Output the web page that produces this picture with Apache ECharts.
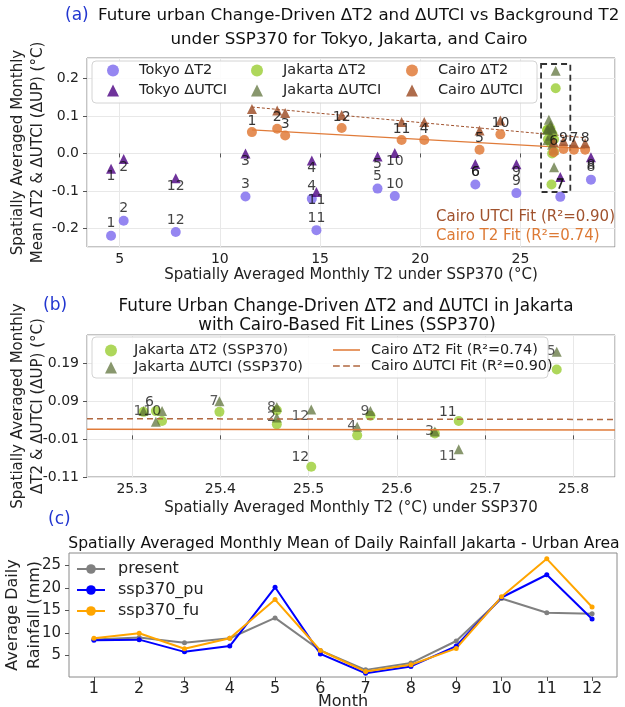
<!DOCTYPE html>
<html>
<head>
<meta charset="utf-8">
<script src="https://cdn.jsdelivr.net/npm/echarts@6/dist/echarts.min.js"></script>
<style>
html, body { margin: 0; padding: 0; background: #fff; }
#chart { width: 625px; height: 707px; }
</style>
</head>
<body>
<div id="chart"></div>
<script>
// months 1..12
var months = [1, 2, 3, 4, 5, 6, 7, 8, 9, 10, 11, 12];

// (a) background T2 (x) and delta values (y) per month
var tokyoBgT2   = [4.57, 5.2, 11.28, 14.59, 17.87, 22.75, 26.99, 28.52, 24.8, 18.73, 14.82, 7.8];
var tokyoDT2    = [-0.22, -0.18, -0.115, -0.121, -0.094, -0.083, -0.116, -0.07, -0.106, -0.114, -0.205, -0.21];
var tokyoDUTCI  = [-0.041, -0.015, 0.0, -0.019, -0.008, -0.028, -0.063, -0.01, -0.029, 0.001, -0.103, -0.066];

var jakartaBgT2A = [26.33, 26.5, 26.67, 26.58, 26.76, 26.35, 26.42, 26.5, 26.6, 26.37, 26.68, 26.55];
var jakartaDT2   = [0.062, 0.029, 0.005, 0.0, 0.174, 0.064, 0.062, 0.066, 0.052, 0.038, 0.038, -0.083];
var jakartaDUTCI = [0.064, 0.047, 0.01, 0.023, 0.221, 0.036, 0.09, 0.075, 0.064, 0.064, -0.037, 0.068];

var cairoBgT2  = [11.6, 12.86, 13.26, 20.2, 22.96, 26.66, 27.67, 28.23, 27.15, 24.0, 19.07, 16.08];
var cairoDT2   = [0.057, 0.066, 0.048, 0.036, 0.01, 0.003, 0.01, 0.01, 0.012, 0.051, 0.036, 0.068];
var cairoDUTCI = [0.119, 0.115, 0.108, 0.084, 0.061, 0.03, 0.028, 0.027, 0.033, 0.088, 0.084, 0.103];

// Cairo fit lines (end points) and the dashed highlight box around Jakarta
var cairoT2FitA   = [[11.6, 0.063], [28.23, 0.013]];
var cairoUtciFitA = [[11.6, 0.124], [28.23, 0.042]];
var jakartaBoxA   = [[26.03, 0.239], [27.49, -0.103]];

// (b) Jakarta background T2 and Cairo fits evaluated there
var jakartaBgT2B  = [25.313, 25.464, 25.643, 25.555, 25.781, 25.327, 25.399, 25.464, 25.570, 25.334, 25.670, 25.503];
var cairoT2FitB   = [[25.249, 0.016], [25.847, 0.014]];
var cairoUtciFitB = [[25.249, 0.044], [25.847, 0.042]];

// (c) monthly mean daily rainfall (mm)
var rainPresent = [8.5, 8.94, 7.8, 8.79, 13.33, 6.06, 1.74, 3.26, 8.18, 17.65, 14.47, 14.24];
var rainPu      = [8.33, 8.48, 5.76, 7.05, 20.15, 5.3, 0.98, 2.5, 7.05, 17.88, 22.95, 13.1];
var rainFu      = [8.79, 9.92, 6.44, 8.79, 17.42, 6.06, 1.36, 2.88, 6.52, 18.03, 26.5, 15.76];

var FONT = 'DejaVu Sans';
var GRIDLINE = '#e8e8e8';
var FRAME = '#8a8a8a';
var LINE_SOLID  = 'path://M0,0H28V1.6H0Z';
var LINE_DASHED = 'path://M0,0H7V1.6H0Z M10.5,0H17.5V1.6H10.5Z M21,0H28V1.6H21Z';

function monthLabel(p) { return p.value[2]; }

function pts(xs, ys) {
    return months.map(function (m, i) { return [xs[i], ys[i], m]; });
}

// panel (b): one label (on the upper mark) when the two marks of a month sit close, else one each
function ptsB(which) {
    return months.map(function (m, i) {
        var t2 = jakartaDT2[i], ut = jakartaDUTCI[i];
        var close = Math.abs(t2 - ut) < 0.05;
        var mine = which === 't2' ? t2 : ut;
        var lab;
        if (close) {
            var upperIsT2 = t2 > ut;
            var showIt = (which === 't2') === upperIsT2;
            lab = { show: showIt, offset: upperIsT2 ? [-2, -9] : [-1, 0] };
        } else {
            lab = { show: true, offset: which === 't2' ? [-2, -9] : [-2, 7] };
        }
        return { value: [jakartaBgT2B[i], mine, m], label: lab };
    });
}

var labBase = { show: true, position: 'inside', color: '#111', fontSize: 14, fontFamily: FONT, formatter: monthLabel };
function lab(extra) { var o = {}; for (var k in labBase) o[k] = labBase[k]; for (var j in extra) o[j] = extra[j]; return o; }

function axisCommon(extra) {
    var o = {
        axisLine: { show: false },
        axisTick: { show: true, length: 4, lineStyle: { color: '#555' } },
        axisLabel: { color: '#222', fontSize: 14, fontFamily: FONT, margin: 5, showMinLabel: false, showMaxLabel: false, hideOverlap: false },
        splitLine: { show: true, lineStyle: { color: GRIDLINE, width: 1 } },
        nameMoveOverlap: false,
        nameTextStyle: { color: '#222', fontSize: 15, fontFamily: FONT, lineHeight: 20 }
    };
    for (var k in extra) o[k] = extra[k];
    return o;
}

var chart = echarts.init(document.getElementById('chart'), null, { renderer: 'canvas' });

var legendText = { fontSize: 14.5, fontFamily: FONT, color: '#222', padding: [0, 0, 0, 15] };

var option = {
    backgroundColor: '#fff',
    animation: false,
    textStyle: { fontFamily: FONT },
    grid: [
        { left: 87, top: 58, width: 528, height: 189, show: true, borderColor: FRAME, borderWidth: 1, backgroundColor: 'transparent', containLabel: false, outerBoundsMode: 'none' },
        { left: 87, top: 335, width: 528, height: 142, show: true, borderColor: FRAME, borderWidth: 1, backgroundColor: 'transparent', containLabel: false, outerBoundsMode: 'none' },
        { left: 69, top: 553, width: 548, height: 124, show: true, borderColor: FRAME, borderWidth: 1, backgroundColor: 'transparent', containLabel: false, outerBoundsMode: 'none' }
    ],
    xAxis: [
        axisCommon({ type: 'value', gridIndex: 0, min: 3.37, max: 29.72, splitNumber: 5,
            name: 'Spatially Averaged Monthly T2 under SSP370 (°C)', nameLocation: 'middle', nameGap: 18 }),
        axisCommon({ type: 'value', gridIndex: 1, min: 25.249, max: 25.847, splitNumber: 6,
            name: 'Spatially Averaged Monthly T2 (°C) under SSP370', nameLocation: 'middle', nameGap: 21 }),
        axisCommon({ type: 'value', gridIndex: 2, min: 0.45, max: 12.55, splitNumber: 12,
            splitLine: { show: false },
            name: 'Month', nameLocation: 'middle', nameGap: 17,
            axisLabel: { color: '#222', fontSize: 16, fontFamily: FONT, margin: 4, showMinLabel: false, showMaxLabel: false, hideOverlap: false },
            nameTextStyle: { color: '#222', fontSize: 16, fontFamily: FONT } })
    ],
    yAxis: [
        axisCommon({ type: 'value', gridIndex: 0, min: -0.25, max: 0.255, splitNumber: 5,
            axisLabel: { color: '#222', fontSize: 14, fontFamily: FONT, showMinLabel: false, showMaxLabel: false,
                formatter: function (v) { return v.toFixed(1); } },
            name: 'Spatially Averaged Monthly\nMean ΔT2 & ΔUTCI (ΔUP) (°C)', nameLocation: 'middle', nameGap: 39, nameRotate: 90 }),
        axisCommon({ type: 'value', gridIndex: 1, min: -0.11, max: 0.265, interval: 0.1,
            axisLabel: { color: '#222', fontSize: 14, fontFamily: FONT, showMinLabel: true, showMaxLabel: false,
                formatter: function (v) { return v.toFixed(2); } },
            name: 'Spatially Averaged Monthly\nΔT2 & ΔUTCI (ΔUP) (°C)', nameLocation: 'middle', nameGap: 39, nameRotate: 90 }),
        axisCommon({ type: 'value', gridIndex: 2, min: 0.15, max: 27.8, splitNumber: 5,
            splitLine: { show: false },
            axisLabel: { color: '#222', fontSize: 15, fontFamily: FONT, showMinLabel: false, showMaxLabel: false },
            name: 'Average Daily\nRainfall (mm)', nameLocation: 'middle', nameGap: 23, nameRotate: 90,
            nameTextStyle: { color: '#222', fontSize: 16, fontFamily: FONT, lineHeight: 22 } })
    ],
    legend: [
        { orient: 'vertical', left: 102, top: 58, itemWidth: 12, itemHeight: 12, itemGap: 5, textStyle: legendText,
          data: [{ name: 'Tokyo ΔT2', icon: 'circle' }, { name: 'Tokyo ΔUTCI', icon: 'triangle' }] },
        { orient: 'vertical', left: 246, top: 58, itemWidth: 12, itemHeight: 12, itemGap: 5, textStyle: legendText,
          data: [{ name: 'Jakarta ΔT2', icon: 'circle' }, { name: 'Jakarta ΔUTCI', icon: 'triangle' }] },
        { orient: 'vertical', left: 401, top: 58, itemWidth: 12, itemHeight: 12, itemGap: 5, textStyle: legendText,
          data: [{ name: 'Cairo ΔT2', icon: 'circle' }, { name: 'Cairo ΔUTCI', icon: 'triangle' }] },
        { orient: 'vertical', left: 100, top: 338, itemWidth: 12, itemHeight: 12, itemGap: 2,
          textStyle: { fontSize: 14.5, fontFamily: FONT, color: '#222', padding: [0, 0, 0, 12] },
          data: [{ name: 'Jakarta ΔT2 (SSP370)', icon: 'circle' }, { name: 'Jakarta ΔUTCI (SSP370)', icon: 'triangle' }] },
        { orient: 'vertical', left: 328, top: 338, itemWidth: 27, itemHeight: 12, itemGap: 2,
          textStyle: { fontSize: 14.4, fontFamily: FONT, color: '#222', padding: [0, 0, 0, 6] },
          data: [{ name: 'Cairo ΔT2 Fit (R²=0.74)', icon: LINE_SOLID }, { name: 'Cairo ΔUTCI Fit (R²=0.90)', icon: LINE_DASHED }] },
        { orient: 'vertical', left: 71, top: 556, itemWidth: 28, itemHeight: 12, itemGap: 5,
          textStyle: { fontSize: 16, fontFamily: FONT, color: '#222', padding: [0, 0, 0, 8] },
          data: ['present', 'ssp370_pu', 'ssp370_fu'] }
    ],
    graphic: [
        { type: 'rect', z: 3, shape: { x: 92, y: 61, width: 445, height: 42, r: 4 },
          style: { fill: 'rgba(255,255,255,0.85)', stroke: '#d4d4d4', lineWidth: 1 } },
        { type: 'rect', z: 3, shape: { x: 92, y: 337, width: 456, height: 41, r: 4 },
          style: { fill: 'rgba(255,255,255,0.85)', stroke: '#d4d4d4', lineWidth: 1 } },
        { type: 'text', left: 65, top: 7, style: { text: '(a)', fill: '#2236d0', font: '17px "DejaVu Sans"' } },
        { type: 'text', left: 98, top: 7, style: { text: 'Future urban Change-Driven ΔT2 and ΔUTCI vs Background T2', fill: '#111', font: '16.7px "DejaVu Sans"' } },
        { type: 'text', x: 349, y: 40, style: { text: 'under SSP370 for Tokyo, Jakarta, and Cairo', fill: '#111', font: '16.7px "DejaVu Sans"', align: 'center', verticalAlign: 'middle' } },
        { type: 'text', left: 436, top: 210, z: 5, style: { text: 'Cairo UTCI Fit (R²=0.90)', fill: '#a0522d', font: '15px "DejaVu Sans"' } },
        { type: 'text', left: 436, top: 229, z: 5, style: { text: 'Cairo T2 Fit (R²=0.74)', fill: '#dd7a35', font: '15px "DejaVu Sans"' } },
        { type: 'text', left: 43, top: 297, style: { text: '(b)', fill: '#2236d0', font: '17px "DejaVu Sans"' } },
        { type: 'text', x: 346, y: 307, style: { text: 'Future Urban Change-Driven ΔT2 and ΔUTCI in Jakarta', fill: '#111', font: '16.8px "DejaVu Sans"', align: 'center', verticalAlign: 'middle' } },
        { type: 'text', x: 347, y: 326, style: { text: 'with Cairo-Based Fit Lines (SSP370)', fill: '#111', font: '16.8px "DejaVu Sans"', align: 'center', verticalAlign: 'middle' } },
        { type: 'text', left: 48, top: 511, style: { text: '(c)', fill: '#2236d0', font: '17px "DejaVu Sans"' } },
        { type: 'text', x: 344, y: 544, style: { text: 'Spatially Averaged Monthly Mean of Daily Rainfall Jakarta - Urban Area', fill: '#111', font: '15.6px "DejaVu Sans"', align: 'center', verticalAlign: 'middle' } }
    ],
    series: [
        // (a)
        { name: 'Cairo ΔT2 Fit A', type: 'line', xAxisIndex: 0, yAxisIndex: 0, data: cairoT2FitA, symbol: 'none', silent: true,
          lineStyle: { color: '#e07b39', width: 1.2 }, z: 1 },
        { name: 'Cairo ΔUTCI Fit A', type: 'line', xAxisIndex: 0, yAxisIndex: 0, data: cairoUtciFitA, symbol: 'none', silent: true,
          lineStyle: { color: '#a0522d', width: 1, type: [3, 2] }, z: 1 },
        { name: 'Tokyo ΔT2', type: 'scatter', xAxisIndex: 0, yAxisIndex: 0, data: pts(tokyoBgT2, tokyoDT2), symbol: 'circle', symbolSize: 10,
          itemStyle: { color: '#7b68ee', opacity: 0.8 }, label: lab({ offset: [0, -12] }) },
        { name: 'Tokyo ΔUTCI', type: 'scatter', xAxisIndex: 0, yAxisIndex: 0, data: pts(tokyoBgT2, tokyoDUTCI), symbol: 'triangle', symbolSize: 10,
          itemStyle: { color: '#4b0082', opacity: 0.8 }, label: lab({ offset: [0, 8] }) },
        { name: 'Jakarta ΔT2', type: 'scatter', xAxisIndex: 0, yAxisIndex: 0, data: pts(jakartaBgT2A, jakartaDT2), symbol: 'circle', symbolSize: 10,
          itemStyle: { color: '#9acd32', opacity: 0.8 } },
        { name: 'Jakarta ΔUTCI', type: 'scatter', xAxisIndex: 0, yAxisIndex: 0, data: pts(jakartaBgT2A, jakartaDUTCI), symbol: 'triangle', symbolSize: 10,
          itemStyle: { color: '#556b2f', opacity: 0.7 } },
        { name: 'Cairo ΔT2', type: 'scatter', xAxisIndex: 0, yAxisIndex: 0, data: pts(cairoBgT2, cairoDT2), symbol: 'circle', symbolSize: 10,
          itemStyle: { color: '#e07b39', opacity: 0.85 }, label: lab({ offset: [0, -11] }) },
        { name: 'Cairo ΔUTCI', type: 'scatter', xAxisIndex: 0, yAxisIndex: 0, data: pts(cairoBgT2, cairoDUTCI), symbol: 'triangle', symbolSize: 10,
          itemStyle: { color: '#a0522d', opacity: 0.85 },
          markArea: { silent: true, itemStyle: { color: 'rgba(0,0,0,0)', borderColor: '#333', borderWidth: 1.8, borderType: [6, 4] },
                      data: [[{ coord: jakartaBoxA[0] }, { coord: jakartaBoxA[1] }]] } },
        // (b)
        { name: 'Cairo ΔT2 Fit (R²=0.74)', type: 'line', xAxisIndex: 1, yAxisIndex: 1, data: cairoT2FitB, symbol: 'none', silent: true,
          lineStyle: { color: '#e07b39', width: 1.5 }, itemStyle: { color: '#e07b39' } },
        { name: 'Cairo ΔUTCI Fit (R²=0.90)', type: 'line', xAxisIndex: 1, yAxisIndex: 1, data: cairoUtciFitB, symbol: 'none', silent: true,
          lineStyle: { color: '#b0673f', width: 1.5, type: [6, 4] }, itemStyle: { color: '#b0673f' } },
        { name: 'Jakarta ΔT2 (SSP370)', type: 'scatter', xAxisIndex: 1, yAxisIndex: 1, data: ptsB('t2'), symbol: 'circle', symbolSize: 10,
          itemStyle: { color: '#9acd32', opacity: 0.8 }, label: lab({ align: 'right' }) },
        { name: 'Jakarta ΔUTCI (SSP370)', type: 'scatter', xAxisIndex: 1, yAxisIndex: 1, data: ptsB('ut'), symbol: 'triangle', symbolSize: 10,
          itemStyle: { color: '#556b2f', opacity: 0.7 }, label: lab({ align: 'right' }) },
        // (c)
        { name: 'present', type: 'line', xAxisIndex: 2, yAxisIndex: 2, data: months.map(function (m, i) { return [m, rainPresent[i]]; }),
          symbol: 'circle', symbolSize: 5, lineStyle: { color: '#808080', width: 2 }, itemStyle: { color: '#808080' } },
        { name: 'ssp370_pu', type: 'line', xAxisIndex: 2, yAxisIndex: 2, data: months.map(function (m, i) { return [m, rainPu[i]]; }),
          symbol: 'circle', symbolSize: 5, lineStyle: { color: '#0000ff', width: 2 }, itemStyle: { color: '#0000ff' } },
        { name: 'ssp370_fu', type: 'line', xAxisIndex: 2, yAxisIndex: 2, data: months.map(function (m, i) { return [m, rainFu[i]]; }),
          symbol: 'circle', symbolSize: 5, lineStyle: { color: '#ffa500', width: 2 }, itemStyle: { color: '#ffa500' } }
    ]
};

chart.setOption(option);
</script>
</body>
</html>
